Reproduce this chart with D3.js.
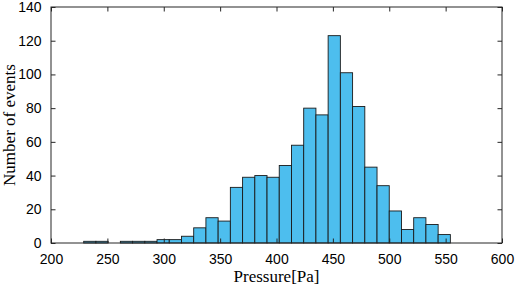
<!DOCTYPE html>
<html>
<head>
<meta charset="utf-8">
<script src="https://cdn.jsdelivr.net/npm/d3@7"></script>
<style>
  body { margin: 0; background: #fff; }
  svg text { fill: #000; }
</style>
</head>
<body>
<svg id="chart" width="515" height="288"></svg>
<script>
// histogram bins: first edge, bin width, counts
const binStart = 229
const binWidth = 10.84
const counts = [1, 1, 0, 1, 1, 1, 2, 2, 4, 9, 15, 13, 33, 39, 40, 39, 46, 58, 80, 76, 123, 101, 81, 45, 34, 19, 8, 15, 11, 5]
const xTicks = [200, 250, 300, 350, 400, 450, 500, 550, 600]
const yTicks = [0, 20, 40, 60, 80, 100, 120, 140]

const bins = counts.map((c, i) => ({ x0: binStart + i * binWidth, x1: binStart + (i + 1) * binWidth, n: c }))

let svg = d3.select("#chart")
let m = { left: 51, right: 13, top: 7, bottom: 45 }
let w = 515 - m.left - m.right
let h = 288 - m.top - m.bottom

let x = d3.scaleLinear().domain([200, 600]).range([0, w])
let y = d3.scaleLinear().domain([0, 140]).range([h, 0])

let g = svg.append("g").attr("transform", "translate(" + m.left + "," + m.top + ")")

g.selectAll("rect.bar")
  .data(bins.filter(d => d.n > 0))
  .enter()
  .append("rect")
  .attr("class", "bar")
  .attr("x", d => x(d.x0))
  .attr("width", d => x(d.x1) - x(d.x0))
  .attr("y", d => y(d.n))
  .attr("height", d => y(0) - y(d.n))
  .attr("fill", "#4DBEEE")
  .attr("stroke", "#1a1a1a")
  .attr("stroke-width", 0.9)

const tickLen = 4.5
const styleAxis = (sel) => {
  sel.select(".domain").remove()
  sel.selectAll(".tick line").attr("stroke", "#262626")
  sel.selectAll(".tick text").style("font-family", "'Liberation Sans', Arial, sans-serif").style("font-size", "14px")
}

// bottom & top
g.append("g")
  .attr("transform", "translate(0," + h + ")")
  .call(d3.axisBottom(x).tickValues(xTicks).tickSizeInner(-tickLen).tickSizeOuter(0).tickPadding(7 + tickLen))
  .call(styleAxis)
g.append("g")
  .call(d3.axisTop(x).tickValues(xTicks).tickSizeInner(-tickLen).tickSizeOuter(0).tickFormat(""))
  .call(styleAxis)

// left & right
g.append("g")
  .call(d3.axisLeft(y).tickValues(yTicks).tickSizeInner(-tickLen).tickSizeOuter(0).tickPadding(5 + tickLen))
  .call(styleAxis)
g.append("g")
  .attr("transform", "translate(" + w + ",0)")
  .call(d3.axisRight(y).tickValues(yTicks).tickSizeInner(-tickLen).tickSizeOuter(0).tickFormat(""))
  .call(styleAxis)

// box
g.append("rect")
  .attr("width", w).attr("height", h)
  .attr("fill", "none")
  .attr("stroke", "#262626")
  .attr("stroke-width", 1)

g.append("text")
  .attr("x", w / 2)
  .attr("y", h + 39)
  .attr("text-anchor", "middle")
  .style("font-family", "'Liberation Serif', 'DejaVu Serif', serif")
  .style("font-size", "17px")
  .text("Pressure[Pa]")

g.append("text")
  .attr("transform", "translate(" + (-36.5) + "," + (h / 2) + ") rotate(-90)")
  .attr("text-anchor", "middle")
  .style("font-family", "'Liberation Serif', 'DejaVu Serif', serif")
  .style("font-size", "17px")
  .text("Number of events")
</script>
</body>
</html>
